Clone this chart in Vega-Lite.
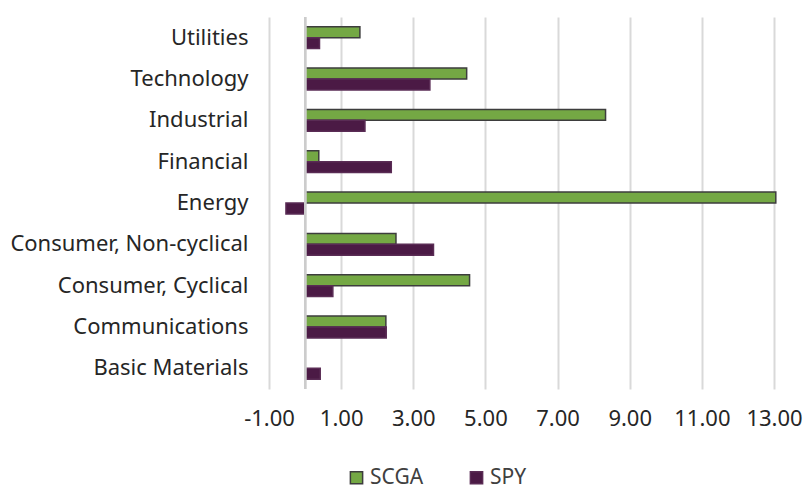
{
  "$schema": "https://vega.github.io/schema/vega-lite/v6.json",
  "width": 505,
  "height": 372,
  "autosize": {"type": "none"},
  "padding": {"left": 269, "top": 17, "right": 30, "bottom": 100},
  "background": "white",
  "config": {
    "view": {"stroke": null},
    "font": "Noto Sans",
    "axis": {"labelFont": "Noto Sans", "labelFontSize": 22, "labelColor": "#262626"},
    "legend": {"labelFont": "Noto Sans", "labelFontSize": 21, "labelColor": "#404040", "padding": 0}
  },
  "data": {
    "values": [
      {"sector": "Utilities", "series": "SCGA", "value": 1.52},
      {"sector": "Utilities", "series": "SPY", "value": 0.40},
      {"sector": "Technology", "series": "SCGA", "value": 4.48},
      {"sector": "Technology", "series": "SPY", "value": 3.46},
      {"sector": "Industrial", "series": "SCGA", "value": 8.33},
      {"sector": "Industrial", "series": "SPY", "value": 1.66},
      {"sector": "Financial", "series": "SCGA", "value": 0.38},
      {"sector": "Financial", "series": "SPY", "value": 2.39},
      {"sector": "Energy", "series": "SCGA", "value": 13.05},
      {"sector": "Energy", "series": "SPY", "value": -0.53},
      {"sector": "Consumer, Non-cyclical", "series": "SCGA", "value": 2.52},
      {"sector": "Consumer, Non-cyclical", "series": "SPY", "value": 3.56},
      {"sector": "Consumer, Cyclical", "series": "SCGA", "value": 4.56},
      {"sector": "Consumer, Cyclical", "series": "SPY", "value": 0.77},
      {"sector": "Communications", "series": "SCGA", "value": 2.24},
      {"sector": "Communications", "series": "SPY", "value": 2.25},
      {"sector": "Basic Materials", "series": "SCGA", "value": 0},
      {"sector": "Basic Materials", "series": "SPY", "value": 0.42}
    ]
  },
  "layer": [
    {
      "mark": {"type": "bar", "strokeWidth": 1.5},
      "encoding": {
        "y": {
          "field": "sector", "type": "nominal", "sort": null,
          "scale": {"paddingInner": 0.47, "paddingOuter": 0.235},
          "axis": {"title": null, "domain": false, "ticks": false, "labelPadding": 21, "labelLimit": 300}
        },
        "yOffset": {"field": "series", "type": "nominal", "sort": ["SCGA", "SPY"], "scale": {"paddingInner": 0}},
        "x": {
          "field": "value", "type": "quantitative",
          "scale": {"domain": [-1, 13], "nice": false, "zero": false},
          "axis": {
            "title": null, "values": [-1, 1, 3, 5, 7, 9, 11, 13],
            "labelExpr": "replace(format(datum.value, '.2f'), '\u2212', '-')",
            "labelOverlap": false, "labelFlush": false,
            "domain": false, "ticks": false, "grid": true, "gridColor": "#d9d9d9", "gridWidth": 2,
            "labelPadding": 19
          }
        },
        "fill": {
          "field": "series", "type": "nominal",
          "scale": {"domain": ["SCGA", "SPY"], "range": ["#74a844", "#4b1a45"]},
          "legend": {
            "title": null, "orient": "none", "direction": "horizontal",
            "legendX": 77, "legendY": 450,
            "symbolType": "square", "symbolSize": 150, "symbolStrokeWidth": 1.5,
            "columnPadding": 42, "labelOffset": 3
          }
        },
        "stroke": {
          "field": "series", "type": "nominal",
          "scale": {"domain": ["SCGA", "SPY"], "range": ["#3d3d3d", "#5a2c55"]},
          "legend": null
        }
      }
    },
    {
      "mark": {"type": "rule", "color": "#cccccc", "strokeWidth": 2},
      "encoding": {"x": {"datum": 0}}
    }
  ]
}
